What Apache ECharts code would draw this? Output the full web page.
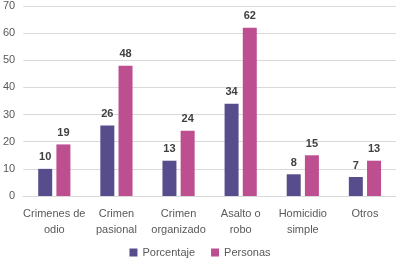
<!DOCTYPE html>
<html>
<head>
<meta charset="utf-8">
<script src="https://cdn.jsdelivr.net/npm/echarts@6/dist/echarts.min.js"></script>
<style>
  html, body { margin: 0; padding: 0; background: #fff; }
  #chart { width: 400px; height: 260px; }
</style>
</head>
<body>
<div id="chart"></div>
<script>
// datos
var categorias = ['Crimenes de\nodio', 'Crimen\npasional', 'Crimen\norganizado', 'Asalto o\nrobo', 'Homicidio\nsimple', 'Otros'];
var porcentaje = [10, 26, 13, 34, 8, 7];
var personas = [19, 48, 24, 62, 15, 13];
var ticksY = [0, 10, 20, 30, 40, 50, 60, 70];

var fuente = 'Liberation Sans';
var myChart = echarts.init(document.getElementById('chart'));

var etiqueta = {
    show: true,
    position: 'top',
    distance: 6,
    color: '#404040',
    fontWeight: 'bold',
    fontSize: 11,
    fontFamily: fuente
};

var option = {
    animation: false,
    grid: { left: 23, right: 4, top: 6, bottom: 64, containLabel: false },
    legend: {
        bottom: -3,
        left: 'center',
        itemWidth: 8,
        itemHeight: 8,
        itemGap: 16,
        icon: 'rect',
        textStyle: { color: '#595959', fontSize: 11, fontFamily: fuente },
        data: ['Porcentaje', 'Personas']
    },
    xAxis: {
        type: 'category',
        data: categorias,
        axisTick: { show: false },
        axisLine: { lineStyle: { color: '#d9d9d9' } },
        axisLabel: { color: '#595959', fontSize: 11, fontFamily: fuente, lineHeight: 16, margin: 10, interval: 0 }
    },
    yAxis: {
        type: 'value',
        min: ticksY[0],
        max: ticksY[ticksY.length - 1],
        interval: 10,
        axisLine: { show: false },
        axisTick: { show: false },
        splitLine: { lineStyle: { color: '#d9d9d9' } },
        axisLabel: { color: '#595959', fontSize: 11, fontFamily: fuente, margin: 8 }
    },
    series: [{
        name: 'Porcentaje',
        type: 'bar',
        data: porcentaje,
        barWidth: 14,
        barGap: '30%',
        itemStyle: { color: '#584d8c' },
        label: etiqueta
    }, {
        name: 'Personas',
        type: 'bar',
        data: personas,
        barWidth: 14,
        itemStyle: { color: '#bd4f90' },
        label: etiqueta
    }]
};

myChart.setOption(option);
</script>
</body>
</html>
